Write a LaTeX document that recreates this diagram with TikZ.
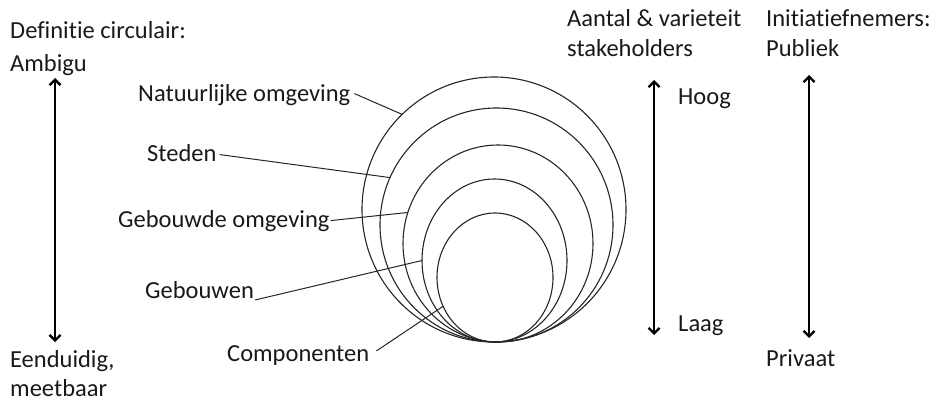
\documentclass[tikz,border=0pt]{standalone}
\usepackage{fontspec}
\setmainfont{Carlito}[RawFeature={-liga;-clig;-dlig;-calt}]
\usetikzlibrary{arrows.meta,shapes.geometric}
\begin{document}
\begin{tikzpicture}[x=1pt,y=-1pt,
  txt/.style={inner sep=0pt,anchor=base west,font=\fontsize{24.5}{29}\selectfont,text=black!90},
  ring/.style={draw=black!85,ellipse,inner sep=0pt,outer sep=0pt,line width=1.1pt},
  leader/.style={draw=black!85,line width=1pt},
  axis/.style={draw=black,line width=2.3pt,{Straight Barb[length=5.5pt,width=11pt,line width=2.3pt]}-{Straight Barb[length=5.5pt,width=11pt,line width=2.3pt]}}]
\useasboundingbox (0,0) rectangle (936,401);
% rings (common bottom at y=342)
\node[ring,minimum width=264pt,minimum height=265pt] (r1) at (494,209.5) {};
\node[ring,minimum width=233pt,minimum height=234pt] (r2) at (496.5,225) {};
\node[ring,minimum width=190pt,minimum height=197pt] (r3) at (498,243.5) {};
\node[ring,minimum width=145pt,minimum height=163pt] (r4) at (494.5,260.5) {};
\node[ring,minimum width=116pt,minimum height=129pt] (r5) at (495,277.5) {};
% left column
\node[txt] (def) at (10,39) {Definitie circulair:};
\node[txt] (amb) at (10,72) {Ambigu};
\node[txt] (een) at (10,367) {Eenduidig,};
\node[txt] (mee) at (10,396) {meetbaar};
\coordinate (a1t) at (55,78);
\coordinate (a1b) at (55,342);
\draw[axis] (a1t) -- (a1b);
% labels
\node[txt] (nat) at (138,102) {Natuurlijke omgeving};
\node[txt] (ste) at (147,161) {Steden};
\node[txt] (gbo) at (118,227) {Gebouwde omgeving};
\node[txt] (gbw) at (145,298) {Gebouwen};
\node[txt] (com) at (227,361) {Componenten};
\draw[leader] ([xshift=4pt,yshift=2pt]nat.east) -- (r1.134.5);
\draw[leader] ([xshift=3pt,yshift=-2pt]ste.east) -- (r2.156.8);
\draw[leader] ([xshift=1pt]gbo.east) -- (r3.161.5);
\draw[leader] ([xshift=1pt,yshift=-2pt]gbw.base east) -- (r4.180);
\draw[leader] ([xshift=7pt,yshift=-6pt]com.north east) -- (r5.209.6);
% middle column
\node[txt] (aan) at (567,27) {Aantal \& varieteit};
\node[txt] (sta) at (567,57) {stakeholders};
\node[txt] (hoo) at (678,105) {Hoog};
\node[txt] (laa) at (678,331) {Laag};
\coordinate (a2t) at (654,80);
\coordinate (a2b) at (654,335);
\draw[axis] (a2t) -- (a2b);
% right column
\node[txt] (ini) at (766,27) {Initiatiefnemers:};
\node[txt] (pub) at (766,57) {Publiek};
\node[txt] (pri) at (766,366) {Privaat};
\coordinate (a3t) at (809,75);
\coordinate (a3b) at (809,338);
\draw[axis] (a3t) -- (a3b);
\end{tikzpicture}
\end{document}
